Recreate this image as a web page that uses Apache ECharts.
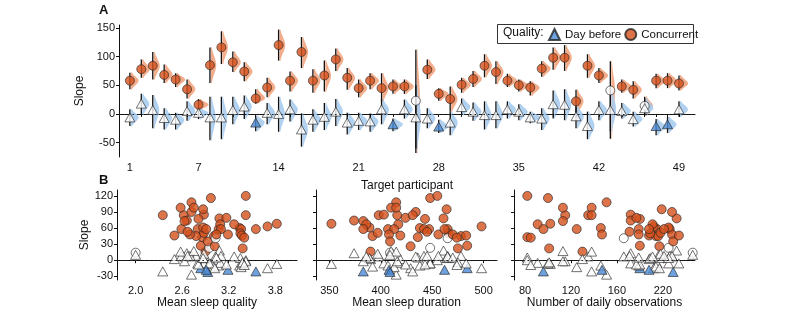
<!DOCTYPE html>
<html>
<head>
<meta charset="UTF-8">
<title></title>
<style>
  html, body { margin: 0; padding: 0; background: #fff; }
  #chart { width: 800px; height: 315px; }
</style>
<script src="https://cdn.jsdelivr.net/npm/echarts@6/dist/echarts.min.js"></script>
</head>
<body>
<div id="chart"></div>
<script>
// participants 1..49
var participants = [1,2,3,4,5,6,7,8,9,10,11,12,13,14,15,16,17,18,19,20,21,22,23,24,25,
  26,27,28,29,30,31,32,33,34,35,36,37,38,39,40,41,42,43,44,45,46,47,48,49];
var participantLabels = [1, 7, 14, 21, 28, 35, 42, 49];

// concurrent slope with interval
var conc   = [58,78,84,68,60,43,16,85,116,90,74,27,46,120,58,108,58,67,95,63,45,58,45,48,48,
  23,77,35,26,51,61,84,73,58,50,46,79,98,98,22,84,67,41,48,42,14,58,58,53];
var concLo = [43,63,60,54,47,27,7,54,87,73,57,18,29,93,39,80,37,39,75,42,29,43,22,35,35,
  -68,61,23,4,37,47,64,52,47,39,32,65,77,75,1,63,54,-43,37,27,-3,45,45,41];
var concHi = [72,95,108,86,71,60,26,116,144,109,90,43,63,147,74,134,78,93,114,80,60,71,71,60,60,
  112,95,45,48,63,75,104,92,70,60,57,92,116,120,42,104,80,92,60,57,30,70,71,67];

// day-before slope with interval
var dayb   = [-6,18,7,-7,-10,5,2,-6,-6,7,13,-15,2,0,8,-27,-10,-5,4,-15,-12,-13,8,-18,8,
  -6,-8,-22,-15,12,4,-2,-2,8,4,-6,-8,17,16,-4,-21,7,7,5,-9,10,-21,-18,8];
var daybLo = [-21,-2,-25,-27,-27,-12,-9,-46,-44,-18,-9,-30,-18,-31,-13,-57,-31,-28,-21,-36,-28,-31,-18,-30,-8,
  -60,-25,-33,-37,-2,-12,-27,-25,-8,-11,-16,-28,-8,-11,-25,-44,-11,-30,-8,-22,-2,-37,-33,-5];
var daybHi = [8,35,33,10,2,22,10,30,30,30,32,-3,19,30,25,1,8,19,26,2,2,1,25,-8,25,
  50,10,-10,4,27,20,22,22,22,17,4,10,41,43,13,4,22,45,19,4,27,-9,-5,22];

// participant covariates
var sleepQuality = [2.80,3.08,2.62,3.82,3.34,2.86,2.90,2.88,2.97,2.72,2.66,2.84,2.50,3.42,2.59,2.72,3.07,3.09,2.87,3.70,
  3.01,3.36,2.78,3.19,2.70,2.95,2.81,2.93,3.02,2.88,2.87,3.42,2.63,3.10,3.35,3.37,3.17,2.75,2.58,3.38,
  2.35,3.27,3.03,3.04,3.40,2.00,3.55,2.91,2.67];
var sleepDuration = [447,461,398,352,438,436,390,403,448,434,374,484,419,455,442,415,407,417,464,498,
  392,413,478,408,456,448,443,409,429,397,389,416,383,465,466,483,424,410,415,475,
  431,386,465,470,474,409,383,462,445];
var dailyObs = [195,212,135,102,146,82,130,172,100,208,172,180,188,82,206,151,179,91,199,192,
  194,125,196,147,208,205,180,209,197,198,205,115,113,201,189,214,177,113,138,101,
  138,191,166,179,85,226,96,188,171];

var slopeTicksA = [-50, 0, 50, 100, 150];
var slopeTicksB = [-30, 0, 30, 60, 90, 120];
var qualityTicks = [2.0, 2.6, 3.2, 3.8];
var durationTicks = [350, 400, 450, 500];
var obsTicks = [80, 120, 160, 200];
var obsTickLabels = ['80', '120', '160', '220'];

var ORANGE = '#D4501C', BLUE = '#4A8AD4', VORANGE = '#F2A47E', VBLUE = '#A9CCEF';
var FONT = '"Liberation Sans", Arial, sans-serif';

function isSig(lo, hi) { return lo > 0 || hi < 0; }

function errData(vals, lo, hi, xs) {
  return vals.map(function (v, i) { return [xs[i], lo[i], hi[i]]; });
}
function renderErr(params, api) {
  var a = api.coord([api.value(0), api.value(1)]);
  var b = api.coord([api.value(0), api.value(2)]);
  return { type: 'line', shape: { x1: a[0], y1: a[1], x2: b[0], y2: b[1] },
    style: { stroke: '#111', lineWidth: 1.3 } };
}
// half violin to the right of each estimate
function violinRenderer(color) {
  return function (params, api) {
    var x = api.value(0), m = api.value(1), lo = api.value(2), hi = api.value(3);
    var sdLo = (m - lo) / 1.96, sdHi = (hi - m) / 1.96;
    var sd = (sdLo + sdHi) / 2;
    var w = Math.min(9, 21 / Math.sqrt(sd));
    var pts = [];
    for (var z = -2.0; z <= 2.001; z += 0.2) {
      var s = z < 0 ? sdLo : sdHi;
      var c = api.coord([x, m + z * s]);
      pts.push([c[0] + 1 + w * Math.exp(-z * z / 2), c[1]]);
    }
    var base = api.coord([x, m]);
    pts.push([base[0] + 1, pts[pts.length - 1][1]]);
    pts.unshift([base[0] + 1, pts[0][1]]);
    return { type: 'polygon', shape: { points: pts },
      style: { fill: color, stroke: null, lineWidth: 0, opacity: 0.9 } };
  };
}
function violinData(vals, lo, hi) {
  return vals.map(function (v, i) { return [participants[i], v, lo[i], hi[i]]; });
}
function concPoints(xs) {
  return conc.map(function (v, i) {
    return { value: [xs[i], v], itemStyle: { color: isSig(concLo[i], concHi[i]) ? ORANGE : '#fff' } };
  });
}
function daybPoints(xs) {
  return dayb.map(function (v, i) {
    return { value: [xs[i], v], itemStyle: { color: isSig(daybLo[i], daybHi[i]) ? BLUE : '#fff' } };
  });
}
var zeroLine = { silent: true, symbol: 'none', label: { show: false },
  lineStyle: { type: [1.5, 3], color: '#222', width: 1.2 }, data: [{ yAxis: 0 }] };

var axisLine = { show: true, lineStyle: { color: '#111', width: 1 } };
var axisTick = function (vals) { return { show: true, length: 3, lineStyle: { color: '#111' }, customValues: vals }; };
var lbl = { color: '#111', fontSize: 11, fontFamily: FONT };

function xAxisB(idx, min, max, ticks, name, fmt) {
  return { type: 'value', gridIndex: idx, min: min, max: max, splitLine: { show: false },
    axisLine: axisLine, axisTick: axisTick(ticks),
    axisLabel: Object.assign({ customValues: ticks, margin: 5, formatter: fmt }, lbl),
    name: name, nameLocation: 'middle', nameGap: 17,
    nameTextStyle: { color: '#111', fontSize: 12, fontFamily: FONT } };
}
function yAxisB(idx, showLabel) {
  return { type: 'value', gridIndex: idx, min: -37, max: 131, splitLine: { show: false },
    axisLine: axisLine, axisTick: axisTick(slopeTicksB),
    axisLabel: Object.assign({ show: showLabel, customValues: slopeTicksB, margin: 4 }, lbl),
    name: showLabel ? 'Slope' : '', nameLocation: 'middle', nameGap: 21,
    nameTextStyle: { color: '#111', fontSize: 12, fontFamily: FONT } };
}

var chart = echarts.init(document.getElementById('chart'));
var xsB = [sleepQuality, sleepDuration, dailyObs];
var seriesB = [];
xsB.forEach(function (xs, k) {
  seriesB.push({ type: 'scatter', name: 'Concurrent', xAxisIndex: k + 1, yAxisIndex: k + 1,
    symbol: 'circle', symbolSize: 9, data: concPoints(xs), z: 3,
    itemStyle: { color: ORANGE, borderColor: '#222', borderWidth: 0.8 }, markLine: zeroLine });
  seriesB.push({ type: 'scatter', name: 'Day before', xAxisIndex: k + 1, yAxisIndex: k + 1,
    symbol: 'triangle', symbolSize: [10, 9], data: daybPoints(xs), z: 4,
    itemStyle: { color: BLUE, borderColor: '#222', borderWidth: 0.8 } });
});

chart.setOption({
  animation: false,
  textStyle: { fontFamily: FONT },
  grid: [
    { left: 119, top: 25, width: 576, height: 132, outerBoundsMode: 'none' },
    { left: 117, top: 190, width: 180, height: 90, outerBoundsMode: 'none' },
    { left: 316, top: 190, width: 181, height: 90, outerBoundsMode: 'none' },
    { left: 514, top: 190, width: 181, height: 90, outerBoundsMode: 'none' }
  ],
  graphic: [
    { type: 'text', left: 99, top: 4, style: { text: 'A', font: 'bold 13px ' + FONT, fill: '#111' } },
    { type: 'text', left: 99, top: 174, style: { text: 'B', font: 'bold 13px ' + FONT, fill: '#111' } },
    { type: 'rect', left: 497, top: 24, z: 0, shape: { width: 196, height: 19 },
      style: { fill: '#fff', stroke: '#333', lineWidth: 1 } },
    { type: 'text', left: 503, top: 27, z: 5, style: { text: 'Quality:', font: '12px ' + FONT, fill: '#111' } }
  ],
  legend: { left: 548, top: 28, padding: 0, itemWidth: 11, itemHeight: 11, itemGap: 3, selectedMode: false,
    data: ['Day before', 'Concurrent'], z: 5,
    textStyle: { fontSize: 11.5, color: '#111', fontFamily: FONT } },
  xAxis: [
    { type: 'value', gridIndex: 0, min: 0.05, max: 50.4, splitLine: { show: false },
      axisLine: axisLine, axisTick: axisTick(participants),
      axisLabel: Object.assign({ customValues: participantLabels, margin: 5 }, lbl),
      name: 'Target participant', nameLocation: 'middle', nameGap: 23,
      nameTextStyle: { color: '#111', fontSize: 12, fontFamily: FONT } },
    xAxisB(1, 1.76, 4.08, qualityTicks, 'Mean sleep quality', function (v) { return v.toFixed(1); }),
    xAxisB(2, 337, 513, durationTicks, 'Mean sleep duration', function (v) { return String(v); }),
    xAxisB(3, 70.4, 228, obsTicks, 'Number of daily observations',
      function (v) { return obsTickLabels[obsTicks.indexOf(v)]; })
  ],
  yAxis: [
    { type: 'value', gridIndex: 0, min: -75, max: 155, splitLine: { show: false },
      axisLine: axisLine, axisTick: axisTick(slopeTicksA),
      axisLabel: Object.assign({ customValues: slopeTicksA, margin: 4 }, lbl),
      name: 'Slope', nameLocation: 'middle', nameGap: 23,
      nameTextStyle: { color: '#111', fontSize: 12, fontFamily: FONT } },
    yAxisB(1, true), yAxisB(2, false), yAxisB(3, false)
  ],
  series: [
    { type: 'custom', name: 'vConc', xAxisIndex: 0, yAxisIndex: 0, z: 1, silent: true,
      renderItem: violinRenderer(VORANGE), data: violinData(conc, concLo, concHi), markLine: zeroLine },
    { type: 'custom', name: 'vDayb', xAxisIndex: 0, yAxisIndex: 0, z: 1, silent: true,
      renderItem: violinRenderer(VBLUE), data: violinData(dayb, daybLo, daybHi) },
    { type: 'custom', name: 'eConc', xAxisIndex: 0, yAxisIndex: 0, z: 2, silent: true,
      renderItem: renderErr, data: errData(conc, concLo, concHi, participants) },
    { type: 'custom', name: 'eDayb', xAxisIndex: 0, yAxisIndex: 0, z: 2, silent: true,
      renderItem: renderErr, data: errData(dayb, daybLo, daybHi, participants) },
    { type: 'scatter', name: 'Day before', xAxisIndex: 0, yAxisIndex: 0, symbol: 'triangle',
      symbolSize: [10, 9], z: 4, data: daybPoints(participants),
      itemStyle: { color: BLUE, borderColor: '#222', borderWidth: 0.8 } },
    { type: 'scatter', name: 'Concurrent', xAxisIndex: 0, yAxisIndex: 0, symbol: 'circle',
      symbolSize: 9, z: 3, data: concPoints(participants),
      itemStyle: { color: ORANGE, borderColor: '#222', borderWidth: 0.8 } }
  ].concat(seriesB)
});
</script>
</body>
</html>
